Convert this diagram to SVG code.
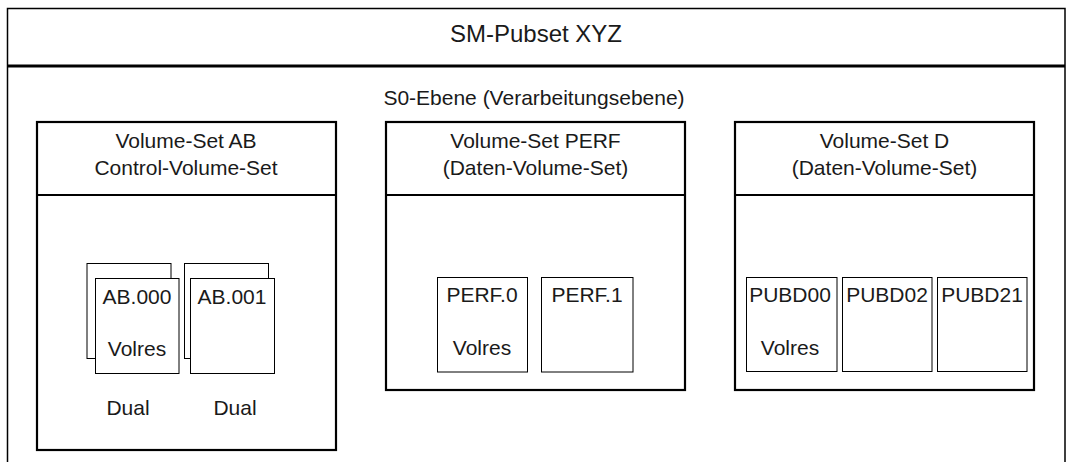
<svg xmlns="http://www.w3.org/2000/svg" width="1068" height="462" viewBox="0 0 1068 462">
<style>
text{font-family:"Liberation Sans",Arial,sans-serif;fill:#1a1a1a;text-anchor:middle}
.t{font-size:21px}
.frame{fill:none;stroke:#000;stroke-width:1.5}
.box{fill:#fff;stroke:#000;stroke-width:2.2}
.sep{stroke:#000;stroke-width:2.2}
.vol{fill:#fff;stroke:#000;stroke-width:1}
</style>
<rect width="1068" height="462" fill="#fff"/>
<g id="pubset">
<path class="frame" d="M7.5,462 V8.5 H1065 V462"/>
<line x1="7.5" y1="66" x2="1065" y2="66" stroke="#000" stroke-width="3"/>
<text x="536" y="42" style="font-size:24px">SM-Pubset XYZ</text>
<text x="534" y="105" style="font-size:21px">S0-Ebene (Verarbeitungsebene)</text>
</g>
<g id="vs-ab">
<rect class="box" x="37" y="122" width="299" height="328"/>
<line class="sep" x1="37" y1="195" x2="336" y2="195"/>
<text class="t" x="186" y="148">Volume-Set AB</text>
<text class="t" x="186" y="175">Control-Volume-Set</text>
<g id="ab000">
<rect class="vol" x="87" y="263.5" width="84" height="95"/>
<rect class="vol" x="95.5" y="278.5" width="83.5" height="95"/>
<text class="t" x="137" y="304">AB.000</text>
<text class="t" x="137" y="356">Volres</text>
</g>
<g id="ab001">
<rect class="vol" x="184.5" y="263.5" width="84" height="95"/>
<rect class="vol" x="190.5" y="278.5" width="84" height="95"/>
<text class="t" x="232" y="304">AB.001</text>
</g>
<text class="t" x="128" y="415">Dual</text>
<text class="t" x="235" y="415">Dual</text>
</g>
<g id="vs-perf">
<rect class="box" x="386" y="122" width="299" height="268"/>
<line class="sep" x1="386" y1="195" x2="685" y2="195"/>
<text class="t" x="535.5" y="148">Volume-Set PERF</text>
<text class="t" x="535.5" y="175">(Daten-Volume-Set)</text>
<g id="perf0">
<rect class="vol" x="437.5" y="277.5" width="90" height="94.5"/>
<text class="t" x="482" y="302">PERF.0</text>
<text class="t" x="482" y="355">Volres</text>
</g>
<g id="perf1">
<rect class="vol" x="541.5" y="277.5" width="91.5" height="94.5"/>
<text class="t" x="587" y="302">PERF.1</text>
</g>
</g>
<g id="vs-d">
<rect class="box" x="735" y="122" width="299" height="268"/>
<line class="sep" x1="735" y1="195" x2="1034" y2="195"/>
<text class="t" x="884.5" y="148">Volume-Set D</text>
<text class="t" x="884.5" y="175">(Daten-Volume-Set)</text>
<g id="pubd00">
<rect class="vol" x="746.5" y="277.5" width="90.5" height="94"/>
<text class="t" x="790" y="302">PUBD00</text>
<text class="t" x="790" y="355">Volres</text>
</g>
<g id="pubd02">
<rect class="vol" x="842.5" y="277.5" width="89.5" height="94"/>
<text class="t" x="887" y="302">PUBD02</text>
</g>
<g id="pubd21">
<rect class="vol" x="937.5" y="277.5" width="89.5" height="94"/>
<text class="t" x="982" y="302">PUBD21</text>
</g>
</g>
<g id="connectors"/>
</svg>
